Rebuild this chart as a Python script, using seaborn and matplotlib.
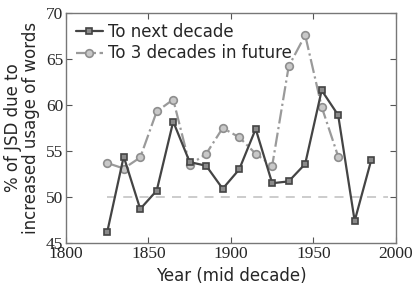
import pandas as pd
import seaborn as sns
import matplotlib.pyplot as plt

# data
years_next = [1825, 1835, 1845, 1855, 1865, 1875, 1885, 1895, 1905,
              1915, 1925, 1935, 1945, 1955, 1965, 1975, 1985]
pct_next = [46.2, 54.4, 48.7, 50.7, 58.2, 53.8, 53.4, 50.9, 53.0,
            57.4, 51.5, 51.7, 53.6, 61.6, 58.9, 47.4, 54.0]

years_future = [1825, 1835, 1845, 1855, 1865, 1875, 1885, 1895,
                1905, 1915, 1925, 1935, 1945, 1955, 1965]
pct_future = [53.7, 53.1, 54.3, 59.3, 60.6, 53.5, 54.7, 57.5,
              56.5, 54.7, 53.4, 64.2, 67.6, 59.8, 54.4]

baseline_value = 50
baseline_span = (1825, 1995)

x_ticks = [1800, 1850, 1900, 1950, 2000]
y_ticks = [45, 50, 55, 60, 65, 70]

#------------------------------------------------------------------------------------

sns.set_style("white")
plt.rcParams['font.family'] = ['DejaVu Sans']

df_next = pd.DataFrame({'year': years_next, 'pct': pct_next})
df_future = pd.DataFrame({'year': years_future, 'pct': pct_future})

fig = plt.figure(figsize=(4.15, 2.9), dpi=100)
ax = fig.add_axes([0.159, 0.162, 0.795, 0.793])

ax.hlines(baseline_value, *baseline_span, colors='#c8c8c8',
          linestyles=(0, (5, 4)), linewidth=1.3, zorder=1)

sns.lineplot(data=df_next, x='year', y='pct', ax=ax, color='#444444',
             linewidth=1.6, marker='s', markersize=5,
             markerfacecolor='#8a8a8a', markeredgecolor='#444444',
             markeredgewidth=1.2, label='To next decade', zorder=3)
sns.lineplot(data=df_future, x='year', y='pct', ax=ax, color='#9a9a9a',
             linewidth=1.6, linestyle='-.', marker='o', markersize=5.5,
             markerfacecolor='#c8c8c8', markeredgecolor='#8e8e8e',
             markeredgewidth=1.2, label='To 3 decades in future', zorder=2)

ax.set_xlim(1800, 2000)
ax.set_ylim(45, 70)
ax.set_xticks(x_ticks)
ax.set_yticks(y_ticks)
ax.tick_params(direction='in', length=4, width=0.8, color='#555555',
               top=True, right=True, bottom=True, left=True, pad=2)
for lbl in ax.get_xticklabels() + ax.get_yticklabels():
    lbl.set_family('Liberation Serif')
    lbl.set_fontsize(12.5)
for s in ax.spines.values():
    s.set_color('#777777')
    s.set_linewidth(1.0)

ax.set_xlabel('Year (mid decade)', fontsize=12)
ax.set_ylabel('% of JSD due to\nincreased usage of words', fontsize=12,
              linespacing=1.05)

ax.legend(loc='upper left', frameon=False, fontsize=12, handlelength=1.6,
          handletextpad=0.3, borderaxespad=0.2, labelspacing=0.2)

fig.savefig('out.png', dpi=100)
